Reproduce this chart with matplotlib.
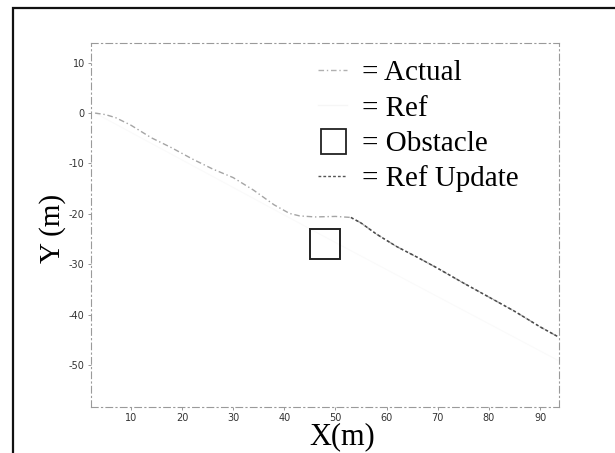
import matplotlib
matplotlib.use("Agg")
import matplotlib.pyplot as plt
from matplotlib.lines import Line2D
from matplotlib.patches import Rectangle

plt.rcParams['axes.unicode_minus'] = False

# path actually driven
path_x = [3, 5, 7, 10, 14, 18, 22, 26, 30, 34, 38, 41, 43, 46, 50, 53, 55, 58,
          62, 66, 70, 75, 80, 85, 90, 93.4]
path_y = [0, -0.3, -0.9, -2.4, -4.9, -6.9, -9.1, -11.1, -12.8, -15.3, -18.2,
          -19.9, -20.4, -20.6, -20.5, -20.7, -21.8, -24.0, -26.5, -28.6, -30.8,
          -33.7, -36.5, -39.3, -42.4, -44.3]

# updated reference, after the obstacle was seen
upd_x = [53, 55, 58, 62, 66, 70, 75, 80, 85, 90, 93.4]
upd_y = [-20.7, -21.8, -24.0, -26.5, -28.6, -30.8, -33.7, -36.5, -39.3, -42.4, -44.3]

# original reference, barely visible
ref_x = [3, 48, 93.4]
ref_y = [0, -24.6, -49.0]

obstacle_x = [48]
obstacle_y = [-25.9]

labels = ["= Actual", "= Ref", "= Obstacle", "= Ref Update"]

fig = plt.figure(figsize=(6.15, 4.53), dpi=100)
fig.patches.append(Rectangle((13 / 615, -0.1), 1.2, 1 - 8 / 453 + 0.1,
                             transform=fig.transFigure, fill=False,
                             edgecolor='#111111', linewidth=1.6))

ax = fig.add_axes([91 / 615, 1 - 407 / 453, 468 / 615, 364 / 453])

ax.plot(ref_x, ref_y, color='#fafafa', linewidth=0.8)
ax.plot(path_x, path_y, color='#a5a5a5', linewidth=1.0, linestyle=(0, (4, 2, 1, 2)))
ax.plot(upd_x, upd_y, color='#4a4a4a', linewidth=1.1, linestyle=(0, (2, 1.5)))
ax.plot(obstacle_x, obstacle_y, marker='s', markersize=22, markerfacecolor='none',
        markeredgecolor='#222222', markeredgewidth=1.4, linestyle='none')

ax.set_xlim(2.2, 93.7)
ax.set_ylim(-58.3, 13.9)
ax.set_xticks([10, 20, 30, 40, 50, 60, 70, 80, 90])
ax.set_yticks([10, 0, -10, -20, -30, -40, -50])

for s in ax.spines.values():
    s.set_linestyle((0, (6, 3, 1, 3)))
    s.set_color('#9a9a9a')
    s.set_linewidth(0.8)
ax.tick_params(direction='out', length=2.5, width=0.6, color='#888888',
               labelsize=7, labelcolor='#333333', pad=2)

fig.text(53 / 615, 1 - 228 / 453, "Y (m)", rotation=90, ha='center', va='center',
         family='Liberation Serif', fontsize=21)
fig.text(342 / 615, 1 - 437 / 453, "X(m)", ha='center', va='center',
         family='Liberation Serif', fontsize=22)

handles = [
    Line2D([], [], color='#b0b0b0', linewidth=1.0, linestyle=(0, (4, 2, 1, 2))),
    Line2D([], [], color='#f6f6f6', linewidth=1.0),
    Line2D([], [], marker='s', markersize=18, markerfacecolor='none',
           markeredgecolor='#222222', markeredgewidth=1.3, linestyle='none'),
    Line2D([], [], color='#555555', linewidth=1.0, linestyle=(0, (2, 1.5))),
]
ax.legend(handles, labels, loc='upper left', frameon=False,
          bbox_to_anchor=(318 / 615, 1 - 60 / 453), bbox_transform=fig.transFigure,
          borderpad=0, borderaxespad=0, handlelength=1.0, handletextpad=0.5,
          labelspacing=0.3, prop={'family': 'Liberation Serif', 'size': 21})

fig.savefig("out.png", dpi=100)
